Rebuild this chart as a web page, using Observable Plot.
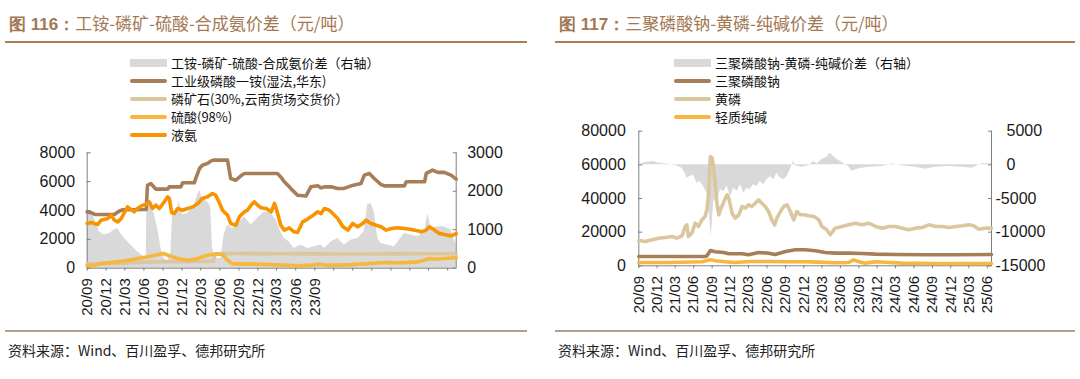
<!DOCTYPE html>
<html><head><meta charset="utf-8">
<script src="https://cdn.jsdelivr.net/npm/d3@7"></script>
<script src="https://cdn.jsdelivr.net/npm/@observablehq/plot@0.6"></script>
<style>
body{margin:0;background:#fff;}
#root{position:relative;width:1080px;height:379px;overflow:hidden;font-family:"Noto Sans CJK SC","Noto Sans",sans-serif;}
.title{position:absolute;top:13px;font-size:17px;line-height:20px;color:#a37855;white-space:nowrap;}
.title b{font-family:"Liberation Sans",Arial,sans-serif;font-weight:bold;}
.rule{position:absolute;height:2px;background:#a67f59;}
.brule{position:absolute;height:2px;background:#b39f8a;}
.item{position:absolute;white-space:nowrap;font-size:13px;line-height:16px;color:#111;}
.sw{position:absolute;}
.src{position:absolute;top:341px;font-size:14px;line-height:18px;color:#222;white-space:nowrap;}
.plot{position:absolute;}
</style></head><body><div id="root"></div>
<script>
// ---------- Figure 116 data ----------
const title1 = "工铵-磷矿-硫酸-合成氨价差（元/吨）";
const legend1 = ["工铵-磷矿-硫酸-合成氨价差（右轴）","工业级磷酸一铵(湿法,华东)","磷矿石(30%,云南货场交货价）","硫酸(98%)","液氨"];
const leftTicks1 = [0, 2000, 4000, 6000, 8000];
const rightTicks1 = [0, 1000, 2000, 3000];
const quarterLabels = ["20/09","20/12","21/03","21/06","21/09","21/12","22/03","22/06","22/09","22/12","23/03","23/06","23/09","23/12","24/03","24/06","24/09","24/12","25/03","25/06"];
const xLabels1 = ["20/09","20/12","21/03","21/06","21/09","21/12","22/03","22/06","22/09","22/12","23/03","23/06","23/09"];
const spread1 = [["2020-09-01",1500],["2020-09-20",1470],["2020-10-05",1300],["2020-10-29",950],["2020-11-23",860],["2020-12-17",900],["2021-01-10",990],["2021-01-26",1030],["2021-02-12",880],["2021-02-28",770],["2021-03-30",600],["2021-05-01",425],["2021-06-03",295],["2021-06-12",250],["2021-06-15",1680],["2021-07-04",1600],["2021-07-20",1420],["2021-08-06",1030],["2021-08-22",510],["2021-09-07",250],["2021-09-23",165],["2021-10-09",425],["2021-10-17",1470],["2021-11-02",1380],["2021-11-18",1730],["2021-12-04",1380],["2021-12-28",1420],["2022-01-29",1640],["2022-02-23",2030],["2022-03-09",1810],["2022-04-03",1730],["2022-04-18",1600],["2022-04-27",510],["2022-05-12",250],["2022-06-06",250],["2022-06-22",860],["2022-07-08",1120],["2022-08-01",1030],["2022-08-25",1120],["2022-09-27",1340],["2022-10-29",1120],["2022-11-14",1210],["2022-12-16",1380],["2023-01-02",1470],["2023-02-03",1420],["2023-02-27",1250],["2023-03-21",950],["2023-04-07",770],["2023-05-01",680],["2023-05-24",510],["2023-06-26",600],["2023-07-28",510],["2023-08-30",560],["2023-10-01",600],["2023-10-17",510],["2023-11-18",680],["2023-12-20",770],["2024-01-21",600],["2024-02-23",730],["2024-03-25",770],["2024-04-26",950],["2024-05-12",1640],["2024-05-28",1680],["2024-06-13",1470],["2024-06-30",770],["2024-07-15",640],["2024-08-16",600],["2024-09-18",560],["2024-11-05",900],["2024-12-08",860],["2025-01-09",820],["2025-02-10",950],["2025-02-26",1420],["2025-03-13",1030],["2025-04-15",1080],["2025-05-16",1080],["2025-06-17",990],["2025-07-12",600]];
const map1 = [["2020-09-01",3900],["2020-09-20",3850],["2020-10-10",3720],["2021-01-10",3720],["2021-02-01",3950],["2021-02-20",4050],["2021-06-12",4070],["2021-06-18",5750],["2021-07-04",5870],["2021-07-28",5480],["2021-09-23",5480],["2021-10-01",5640],["2021-11-26",5640],["2021-12-04",5920],["2022-01-29",5920],["2022-02-07",6300],["2022-02-23",6910],["2022-03-09",7140],["2022-04-01",7250],["2022-04-18",7420],["2022-05-01",7490],["2022-07-08",7490],["2022-07-23",6220],["2022-08-17",6100],["2022-09-19",6500],["2022-10-01",6570],["2023-03-05",6570],["2023-03-21",6330],["2023-04-07",5990],["2023-05-01",5640],["2023-05-16",5410],["2023-06-10",5060],["2023-07-20",5000],["2023-08-13",5640],["2023-09-15",5710],["2023-10-01",5570],["2023-10-20",5650],["2023-11-18",5640],["2023-12-20",5530],["2024-01-20",5530],["2024-02-23",5710],["2024-04-10",5870],["2024-04-26",6450],["2024-05-20",6570],["2024-06-13",6220],["2024-07-15",5800],["2024-08-01",5710],["2024-11-05",5710],["2024-11-14",5990],["2025-02-10",5990],["2025-02-18",6570],["2025-03-20",6800],["2025-04-15",6640],["2025-05-15",6640],["2025-06-17",6450],["2025-07-12",6170]];
const rock1 = [["2020-09-01",300],["2021-03-01",350],["2021-06-01",420],["2021-09-01",450],["2022-01-01",470],["2022-05-01",480],["2022-05-10",1000],["2022-09-01",1020],["2023-03-01",1000],["2023-09-01",990],["2024-03-01",980],["2024-09-01",990],["2025-03-01",1000],["2025-07-12",1000]];
const acid1 = [["2020-09-01",160],["2020-10-05",210],["2020-11-07",320],["2021-01-26",440],["2021-04-15",620],["2021-06-20",790],["2021-08-10",950],["2021-09-02",1020],["2021-10-01",860],["2021-11-10",670],["2021-12-28",550],["2022-02-15",670],["2022-03-25",860],["2022-04-18",950],["2022-05-20",990],["2022-06-14",950],["2022-07-08",560],["2022-08-01",320],["2022-09-15",280],["2022-10-29",300],["2023-01-20",250],["2023-04-07",210],["2023-06-10",160],["2023-08-13",210],["2023-09-15",280],["2023-11-05",210],["2024-01-01",210],["2024-02-23",250],["2024-05-15",320],["2024-08-01",390],["2024-10-20",370],["2025-01-10",440],["2025-02-10",560],["2025-03-05",670],["2025-04-01",620],["2025-05-15",670],["2025-07-12",720]];
const ammonia1 = [["2020-09-01",3100],["2020-09-20",3170],["2020-10-21",3030],["2020-11-07",3330],["2020-12-09",3450],["2020-12-25",3680],["2021-01-10",3330],["2021-01-26",3210],["2021-02-12",3450],["2021-03-14",4250],["2021-03-30",4070],["2021-04-15",3910],["2021-05-01",4140],["2021-05-25",4370],["2021-06-10",4420],["2021-06-27",4600],["2021-07-12",4140],["2021-07-28",4370],["2021-08-14",4140],["2021-09-07",4600],["2021-09-23",4950],["2021-10-01",4830],["2021-10-12",3860],["2021-10-25",3790],["2021-11-10",4140],["2021-12-04",4020],["2021-12-28",4140],["2022-01-22",4250],["2022-02-15",4490],["2022-03-09",4830],["2022-04-03",4950],["2022-04-27",5180],["2022-05-12",5060],["2022-05-28",4600],["2022-06-14",4020],["2022-07-08",3680],["2022-07-23",3100],["2022-08-17",2980],["2022-09-03",3560],["2022-09-27",3910],["2022-10-12",4020],["2022-10-29",4370],["2022-11-14",4600],["2022-11-30",4370],["2022-12-16",4190],["2023-01-10",4140],["2023-02-03",3910],["2023-02-19",4490],["2023-03-02",4020],["2023-03-21",2980],["2023-04-07",2640],["2023-05-01",2800],["2023-05-24",2520],["2023-06-10",2470],["2023-07-04",3210],["2023-07-20",3330],["2023-08-13",3560],["2023-09-15",3910],["2023-10-01",3790],["2023-10-17",4140],["2023-11-10",4020],["2023-11-26",3790],["2023-12-20",3450],["2024-01-14",2870],["2024-02-07",2640],["2024-03-01",3100],["2024-03-25",2870],["2024-04-18",3100],["2024-05-04",3330],["2024-05-28",3100],["2024-06-22",2980],["2024-07-15",2870],["2024-08-09",2640],["2024-09-03",2750],["2024-10-04",2800],["2024-11-05",2750],["2024-11-30",2700],["2024-12-24",2640],["2025-01-25",2520],["2025-02-18",2640],["2025-03-05",2870],["2025-03-29",2640],["2025-04-22",2400],["2025-05-16",2330],["2025-06-17",2240],["2025-07-12",2400]];

// ---------- Figure 117 data ----------
const title2 = "三聚磷酸钠-黄磷-纯碱价差（元/吨）";
const legend2 = ["三聚磷酸钠-黄磷-纯碱价差（右轴）","三聚磷酸钠","黄磷","轻质纯碱"];
const leftTicks2 = [0, 20000, 40000, 60000, 80000];
const rightTicks2 = [-15000, -10000, -5000, 0, 5000];
const xLabels2 = quarterLabels;
const spread2 = [["2020-09-01",0],["2020-10-04",350],["2020-11-14",500],["2020-12-09",250],["2021-01-28",100],["2021-03-09",-150],["2021-04-04",-500],["2021-04-20",-1240],["2021-04-28",-1980],["2021-05-15",-1730],["2021-06-01",-1490],["2021-06-17",-2720],["2021-07-04",-2480],["2021-07-20",-3220],["2021-08-06",-4210],["2021-08-18",-7180],["2021-08-28",-10640],["2021-09-09",-5200],["2021-09-25",-5690],["2021-10-12",-3710],["2021-10-28",-3960],["2021-11-15",-3220],["2021-12-01",-4700],["2021-12-17",-3470],["2022-01-04",-3960],["2022-01-20",-2970],["2022-02-06",-4210],["2022-02-21",-3470],["2022-03-09",-3710],["2022-03-25",-2970],["2022-04-12",-3220],["2022-04-28",-2480],["2022-05-15",-2970],["2022-06-01",-2230],["2022-06-17",-1730],["2022-07-04",-2230],["2022-07-20",-1240],["2022-08-07",-1980],["2022-08-23",-2230],["2022-09-09",-1730],["2022-09-25",-740],["2022-10-04",0],["2022-10-12",590],["2022-10-20",-150],["2022-11-23",-350],["2022-12-25",-150],["2023-01-20",500],["2023-02-06",150],["2023-03-01",750],["2023-03-25",1140],["2023-04-12",1730],["2023-04-28",1240],["2023-05-15",840],["2023-06-09",350],["2023-07-12",-250],["2023-07-28",-990],["2023-08-15",-740],["2023-09-17",-500],["2023-10-20",-350],["2023-12-26",-250],["2024-02-14",150],["2024-04-04",-150],["2024-06-09",-350],["2024-07-28",-640],["2024-09-17",-350],["2024-11-23",-250],["2025-01-29",-350],["2025-03-17",-500],["2025-05-06",150],["2025-06-22",150]];
const stpp2 = [["2020-09-01",5550],["2021-07-28",5550],["2021-08-06",5940],["2021-08-23",9110],["2021-09-17",8320],["2021-10-28",7920],["2021-11-23",7130],["2022-01-28",7130],["2022-03-01",6530],["2022-04-20",7920],["2022-06-09",7520],["2022-07-12",6730],["2022-09-01",8510],["2022-10-20",9500],["2022-12-09",9500],["2023-01-28",8910],["2023-03-17",7920],["2023-05-06",7520],["2023-07-12",7520],["2023-09-17",7330],["2023-11-23",6930],["2024-03-01",6730],["2024-07-28",6530],["2024-12-26",6530],["2025-06-22",6730]];
const phos2 = [["2020-09-01",15050],["2020-10-04",14460],["2020-11-06",15450],["2020-12-09",16440],["2021-01-12",16830],["2021-02-14",17430],["2021-03-09",16440],["2021-04-04",17820],["2021-04-20",23370],["2021-04-28",24360],["2021-05-06",17430],["2021-05-23",19410],["2021-06-09",25350],["2021-06-25",23370],["2021-07-12",27330],["2021-07-28",29310],["2021-08-06",33270],["2021-08-15",43170],["2021-08-23",64950],["2021-09-01",63960],["2021-09-09",57030],["2021-09-17",47130],["2021-09-25",37230],["2021-10-04",30300],["2021-10-12",33270],["2021-10-23",36240],["2021-11-06",40200],["2021-11-15",42180],["2021-11-23",40200],["2021-12-09",31290],["2021-12-25",28320],["2022-01-12",30300],["2022-01-28",35250],["2022-02-14",34260],["2022-03-01",36240],["2022-03-17",35250],["2022-04-04",37230],["2022-04-20",39210],["2022-05-06",37230],["2022-05-23",35250],["2022-06-09",32280],["2022-06-25",27330],["2022-07-09",24360],["2022-07-20",28320],["2022-08-07",32280],["2022-08-23",35250],["2022-09-09",36240],["2022-09-25",32280],["2022-10-12",27330],["2022-10-28",32280],["2022-11-15",30300],["2022-12-01",30300],["2022-12-25",29700],["2023-01-20",29310],["2023-02-14",27330],["2023-03-01",23370],["2023-03-25",21390],["2023-04-12",18420],["2023-05-06",22380],["2023-06-09",23370],["2023-07-12",24360],["2023-08-15",25350],["2023-09-17",24360],["2023-10-20",25350],["2023-11-23",23370],["2023-12-26",22380],["2024-01-29",23370],["2024-03-01",23370],["2024-04-04",22380],["2024-05-06",21390],["2024-06-09",22380],["2024-07-12",22780],["2024-08-15",24360],["2024-09-17",23370],["2024-10-20",23370],["2024-11-23",22780],["2024-12-26",23370],["2025-01-29",23770],["2025-03-01",24360],["2025-03-25",23770],["2025-04-20",21780],["2025-05-23",22380],["2025-06-22",22380]];
const soda2 = [["2020-09-01",1980],["2021-01-28",1980],["2021-07-12",2380],["2021-08-23",3560],["2021-09-17",2970],["2021-11-06",2380],["2021-12-25",1980],["2022-03-09",2570],["2022-06-09",2570],["2022-09-01",2380],["2022-12-01",2380],["2023-02-14",2180],["2023-05-06",1780],["2023-07-12",1980],["2023-08-06",3560],["2023-08-28",2570],["2023-10-04",1580],["2023-11-23",2380],["2024-01-29",1980],["2024-04-04",1580],["2024-09-17",1390],["2025-03-01",1390],["2025-06-22",1390]];

const source = "资料来源：Wind、百川盈孚、德邦研究所";
const colors = {gray:"#d9d9d9", brown:"#a67f59", beige:"#dac79e", yellow:"#f6b73c", orange:"#f79400"};
const axisColor = "#808080", textColor = "#1a1a1a";

// ---------- helpers ----------
const parse = d3.utcParse("%Y-%m-%d");
const rows = arr => arr.map(([d, v]) => ({date: parse(d), value: v}));
const qDate = s => new Date(Date.UTC(2000 + +s.slice(0, 2), +s.slice(3) - 1, 1));
const root = document.getElementById("root");
function el(cls, css, html) { const e = document.createElement("div"); e.className = cls; Object.assign(e.style, css); if (html != null) e.innerHTML = html; root.appendChild(e); return e; }

function header(x0, x1, num, title, legend, legendColors, lx, ly, step) {
  el("title", {left: (x0 + 4) + "px"}, `<b>图 ${num}：</b>${title}`);
  el("rule", {left: x0 + "px", top: "41px", width: (x1 - x0) + "px"});
  el("brule", {left: x0 + "px", top: "330px", width: (x1 - x0) + "px"});
  el("src", {left: (x0 + 3) + "px"}, source);
  legend.forEach((t, i) => {
    const y = ly + i * step;
    const isArea = i === 0;
    el("sw", {left: lx + "px", top: (y - (isArea ? 4 : 2)) + "px", width: "37px", height: (isArea ? 8 : 4) + "px", background: legendColors[i], borderRadius: isArea ? "0" : "2px"});
    el("item", {left: (lx + 41) + "px", top: (y - 8) + "px"}, t);
  });
}

function chart({left, top, width, height, mL, mR, mT, mB, xEnd, yMax, lTicks, rTicks, toLeft, spread, base, lines, xTickLabels, xLabels, rPadPos, rPadNeg, lPad}) {
  const xDom = [parse("2020-09-01"), parse(xEnd)];
  const labelMap = new Map(xLabels.map(s => [+qDate(s), s]));
  const negT = rTicks.filter(v => v < 0), posT = rTicks.filter(v => v >= 0);
  const fromLeft = d => Math.round(rTicks[0] + (d / yMax) * (rTicks[rTicks.length - 1] - rTicks[0]));
  const marks = [
    Plot.areaY(rows(spread), {x: "date", y1: toLeft(base), y2: d => toLeft(d.value), fill: colors.gray}),
    Plot.ruleX([xDom[0]], {y1: 0, y2: yMax, stroke: axisColor}),
    Plot.ruleX([xDom[1]], {y1: 0, y2: yMax, stroke: axisColor}),
    Plot.ruleY([0], {stroke: axisColor}),
    ...lines.map(([data, c]) => Plot.lineY(rows(data), {x: "date", y: "value", stroke: c, strokeWidth: 3.6, strokeLinejoin: "round", strokeLinecap: "round"})),
    Plot.axisY(lTicks, {anchor: "left", tickSize: -4, tickPadding: lPad, tickFormat: d => String(d), stroke: axisColor, fill: textColor, label: null}),
    Plot.axisY(posT.map(toLeft), {anchor: "right", tickSize: -4, tickPadding: rPadPos, tickFormat: d => String(fromLeft(d)), stroke: axisColor, fill: textColor, label: null}),
    Plot.axisX(xTickLabels.map(qDate), {anchor: "bottom", tickSize: 3, tickPadding: 7, tickRotate: -90, fontSize: 15, tickFormat: d => labelMap.get(+d) || "", stroke: axisColor, fill: textColor, label: null})
  ];
  if (negT.length) marks.push(Plot.axisY(negT.map(toLeft), {anchor: "right", tickSize: -4, tickPadding: rPadNeg, tickFormat: d => String(fromLeft(d)), stroke: axisColor, fill: textColor, label: null}));
  const svg = Plot.plot({
    width, height, marginLeft: mL, marginRight: mR, marginTop: mT, marginBottom: mB,
    style: {fontFamily: "'Liberation Sans', Arial, sans-serif", fontSize: "16px", color: textColor, background: "transparent", overflow: "visible"},
    x: {type: "utc", domain: xDom},
    y: {domain: [0, yMax]},
    marks
  });
  svg.classList.add("plot");
  svg.style.left = left + "px"; svg.style.top = top + "px"; svg.style.position = "absolute";
  root.appendChild(svg);
}

// ---------- Figure 116 ----------
header(5, 527, "116", title1, legend1, [colors.gray, colors.brown, colors.beige, colors.yellow, colors.orange], 130, 63, 18);
const k1 = leftTicks1[leftTicks1.length - 1] / rightTicks1[rightTicks1.length - 1];
chart({left: 0, top: 140, width: 540, height: 190, mL: 86.7, mR: 84.3, mT: 12.3, mB: 62.3,
  xEnd: "2025-07-12", yMax: 8000, lTicks: leftTicks1, rTicks: rightTicks1, toLeft: v => v * k1, spread: spread1, base: 0,
  lines: [[map1, colors.brown], [rock1, colors.beige], [acid1, colors.yellow], [ammonia1, colors.orange]],
  xTickLabels: quarterLabels, xLabels: xLabels1, rPadPos: 15, rPadNeg: 15, lPad: 16});

// ---------- Figure 117 ----------
header(555, 1075, "117", title2, legend2, [colors.gray, colors.brown, colors.beige, colors.yellow], 674, 63, 18);
const r0 = rightTicks2[0], r1 = rightTicks2[rightTicks2.length - 1], yMax2 = leftTicks2[leftTicks2.length - 1];
const toLeft2 = v => (v - r0) * yMax2 / (r1 - r0);
chart({left: 540, top: 118, width: 540, height: 212, mL: 98.3, mR: 89, mT: 12.7, mB: 64.7,
  xEnd: "2025-06-22", yMax: yMax2, lTicks: leftTicks2, rTicks: rightTicks2, toLeft: toLeft2, spread: spread2, base: 0,
  lines: [[stpp2, colors.brown], [phos2, colors.beige], [soda2, colors.yellow]],
  xTickLabels: quarterLabels, xLabels: xLabels2, rPadPos: 19, rPadNeg: 8, lPad: 17});
</script></body></html>
